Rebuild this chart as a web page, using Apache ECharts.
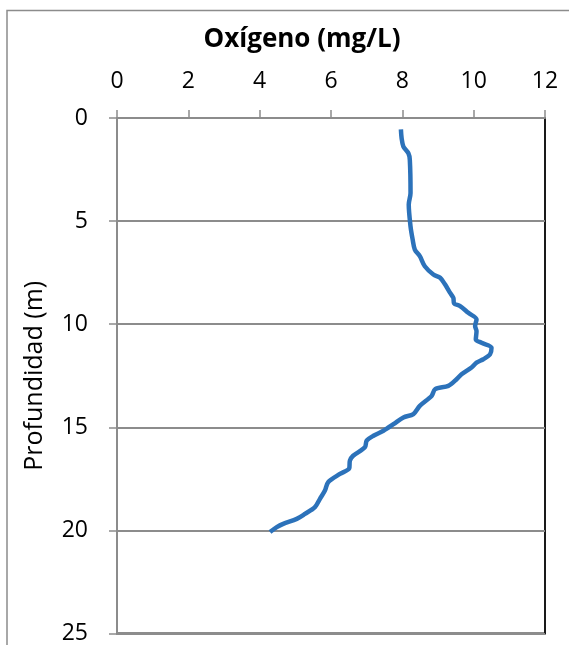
<!DOCTYPE html>
<html>
<head>
<meta charset="utf-8">
<script src="https://cdn.jsdelivr.net/npm/echarts@6/dist/echarts.min.js"></script>
<style>html,body{margin:0;padding:0;background:#fff;}#c{width:569px;height:645px;}</style>
</head>
<body>
<div id="c"></div>
<script>
const oxygen = [7.96, 7.98, 8.03, 8.17, 8.21, 8.23, 8.18, 8.23, 8.29, 8.35, 8.49, 8.63, 8.87, 9.06, 9.2, 9.34, 9.43, 9.45, 9.62, 9.85, 10.08, 10.04, 10.08, 10.06, 10.22, 10.5, 10.46, 10.27, 10.08, 9.94, 9.66, 9.52, 9.29, 8.92, 8.82, 8.49, 8.31, 8.03, 7.75, 7.47, 7.19, 7.0, 6.95, 6.62, 6.53, 6.51, 6.25, 5.92, 5.83, 5.69, 5.55, 5.27, 5.04, 4.66, 4.48, 4.29];
const depth = [0.55, 0.98, 1.39, 1.71, 2.03, 3.64, 4.2, 5.26, 5.9, 6.38, 6.7, 7.19, 7.59, 7.75, 8.08, 8.48, 8.72, 8.99, 9.12, 9.45, 9.77, 10.09, 10.33, 10.74, 10.9, 11.14, 11.46, 11.7, 11.86, 12.1, 12.43, 12.67, 12.99, 13.15, 13.48, 13.96, 14.36, 14.52, 14.85, 15.17, 15.41, 15.65, 15.97, 16.38, 16.62, 16.99, 17.26, 17.66, 18.07, 18.47, 18.87, 19.2, 19.44, 19.68, 19.84, 20.08];
const xTicks = [0, 2, 4, 6, 8, 10, 12];
const yTicks = [0, 5, 10, 15, 20, 25];
const xTitle = 'Oxígeno (mg/L)';
const yTitle = 'Profundidad (m)';

const FONT = 'Open Sans';
const chart = echarts.init(document.getElementById('c'));
chart.setOption({
  animation: false,
  backgroundColor: '#fff',
  grid: {left: 117, right: 24, top: 118, bottom: 10, show: true, borderColor: '#1a1a1a', borderWidth: 2, backgroundColor: 'transparent'},
  graphic: [
    {type: 'rect', shape: {x: 7, y: 10.5, width: 700, height: 800}, style: {fill: 'none', stroke: '#8c8c8c', lineWidth: 1.5}, z: -10},
    {type: 'text', x: 302, y: 40, style: {text: xTitle, font: 'bold 26px "' + FONT + '"', fill: '#000', textAlign: 'center', textVerticalAlign: 'middle'}}
  ],
  xAxis: {
    type: 'value', position: 'top', min: xTicks[0], max: xTicks[xTicks.length - 1], interval: 2,
    axisLine: {show: true, lineStyle: {color: '#8c8c8c', width: 2}},
    axisTick: {show: true, length: 8, lineStyle: {color: '#8c8c8c', width: 1.5}},
    axisLabel: {margin: 25, fontSize: 23, fontFamily: FONT, color: '#000'},
    splitLine: {show: false}
  },
  yAxis: {
    type: 'value', inverse: true, min: yTicks[0], max: yTicks[yTicks.length - 1], interval: 5,
    name: yTitle, nameLocation: 'middle', nameGap: 70,
    nameTextStyle: {fontSize: 25, fontFamily: FONT, color: '#000'},
    axisLine: {show: true, lineStyle: {color: '#8c8c8c', width: 2}},
    axisTick: {show: true, length: 8, lineStyle: {color: '#8c8c8c', width: 1.5}},
    axisLabel: {margin: 29, fontSize: 23, fontFamily: FONT, color: '#000'},
    splitLine: {show: true, lineStyle: {color: '#8c8c8c', width: 2}}
  },
  series: [{
    type: 'line',
    data: oxygen.map((v, i) => [v, depth[i]]),
    showSymbol: false,
    smooth: 0.3,
    lineStyle: {color: '#2C72BA', width: 4.5},
    z: 5
  }]
});
</script>
</body>
</html>
